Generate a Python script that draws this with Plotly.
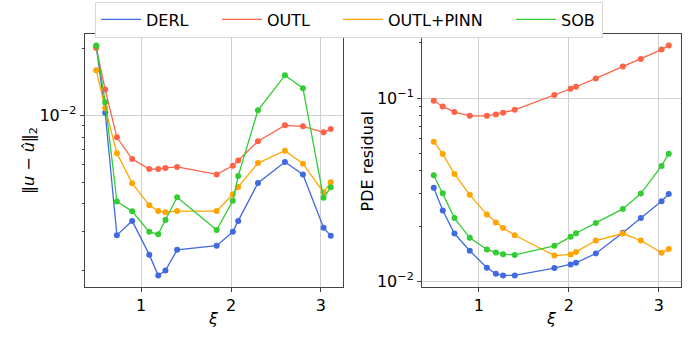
import plotly.graph_objects as go

# xi values shared by both panels
xi = [0.5, 0.6, 0.73, 0.9, 1.09, 1.19, 1.27, 1.4, 1.84, 2.02, 2.08, 2.3, 2.6, 2.8, 3.03, 3.11]

# left panel: ||u - u_hat||_2
err_derl = [0.0205, 0.0103, 0.00289, 0.00335, 0.00236, 0.0019, 0.0020, 0.00248,
            0.00259, 0.00299, 0.00335, 0.00497, 0.00618, 0.00543, 0.00312, 0.00287]
err_outl = [0.0202, 0.0131, 0.00798, 0.00637, 0.00574, 0.00574, 0.00581, 0.00587,
            0.00543, 0.00594, 0.00627, 0.00766, 0.00904, 0.00895, 0.00841, 0.00871]
err_pinn = [0.0160, 0.0108, 0.00676, 0.00495, 0.00394, 0.00371, 0.00367, 0.00371,
            0.00371, 0.00442, 0.00477, 0.00611, 0.00695, 0.00607, 0.00451, 0.00500]
err_sob = [0.0207, 0.0115, 0.00410, 0.00370, 0.00299, 0.00292, 0.00338, 0.00428,
           0.00305, 0.00413, 0.00534, 0.01057, 0.0152, 0.0133, 0.00426, 0.00475]

# right panel: PDE residual
res_derl = [0.0324, 0.0243, 0.0182, 0.01466, 0.01184, 0.01097, 0.01074, 0.01074,
            0.01178, 0.01233, 0.0126, 0.01416, 0.01836, 0.0221, 0.0273, 0.0299]
res_outl = [0.0967, 0.090, 0.0839, 0.080, 0.080, 0.0814, 0.0832, 0.0863,
            0.1038, 0.1124, 0.1153, 0.128, 0.1487, 0.1637, 0.184, 0.1936]
res_pinn = [0.0578, 0.0495, 0.0385, 0.0296, 0.0231, 0.0209, 0.0195, 0.0178,
            0.0138, 0.0140, 0.01445, 0.01667, 0.0182, 0.01667, 0.01428, 0.01496]
res_sob = [0.0379, 0.0302, 0.0221, 0.01725, 0.0149, 0.01433, 0.01403, 0.0139,
           0.0156, 0.01746, 0.01827, 0.0208, 0.0248, 0.0301, 0.0426, 0.0497]

names = ["DERL", "OUTL", "OUTL+PINN", "SOB"]
colors = ["#4169E1", "#FF6347", "#FFA500", "#32CD32"]
legend_w = [66, 66, 118, 36]

W, H = 698, 349
FONT = "DejaVu Sans"

fig = go.Figure()
left = [err_derl, err_outl, err_pinn, err_sob]
right = [res_derl, res_outl, res_pinn, res_sob]
for i in range(4):
    fig.add_trace(go.Scatter(x=xi, y=left[i], name=names[i], mode="lines+markers",
                             line=dict(color=colors[i], width=1.3),
                             marker=dict(size=6, color=colors[i]),
                             showlegend=False, xaxis="x", yaxis="y"))
for i in range(4):
    fig.add_trace(go.Scatter(x=xi, y=right[i], name=names[i], mode="lines+markers",
                             line=dict(color=colors[i], width=1.3),
                             marker=dict(size=6, color=colors[i]),
                             showlegend=False, xaxis="x2", yaxis="y2"))
# legend entries (line only, like the reference)
for i in range(4):
    fig.add_trace(go.Scatter(x=[None], y=[None], name=names[i], mode="lines",
                             line=dict(color=colors[i], width=1.3),
                             legendwidth=legend_w[i], xaxis="x", yaxis="y"))

def minor_vals(lo, hi):
    out = []
    for e in range(lo, hi):
        for m in range(2, 10):
            out.append(m * 10.0 ** e)
    return out

frame = "#444444"
grid = "#d0d0d0"
xcommon = dict(range=[0.3695, 3.2405], tickvals=[1, 2, 3], ticks="outside", ticklen=4,
               tickcolor=frame, showline=True, linecolor=frame, linewidth=1, mirror=True,
               showgrid=True, gridcolor=grid, gridwidth=1, zeroline=False,
               automargin=False,
               tickfont=dict(size=16, color="black", family=FONT))
ycommon = dict(type="log", ticks="outside", ticklen=4, tickcolor=frame, showline=True,
               linecolor=frame, linewidth=1, mirror=True, showgrid=True, gridcolor=grid,
               gridwidth=1, zeroline=False, automargin=False,
               tickfont=dict(size=16, color="black", family=FONT))

y0, y1 = 1 - 287 / H, 1 - 34 / H
fig.update_layout(
    width=W, height=H, margin=dict(l=0, r=0, t=0, b=0, autoexpand=False),
    paper_bgcolor="white", plot_bgcolor="white",
    font=dict(family=FONT, size=16, color="black"),
    xaxis=dict(domain=[84.5 / W, 342.5 / W], anchor="y", **xcommon),
    yaxis=dict(domain=[y0, y1], anchor="x", range=[-2.773, -1.632],
               tickvals=[0.01], ticktext=["10<sup>−2</sup>"],
               minor=dict(tickmode="array", tickvals=minor_vals(-3, -1), ticks="outside",
                          ticklen=2, tickcolor=frame, showgrid=False),
               **ycommon),
    xaxis2=dict(domain=[422 / W, 680.5 / W], anchor="y2", **xcommon),
    yaxis2=dict(domain=[y0, y1], anchor="x2", range=[-2.032, -0.650],
                tickvals=[0.01, 0.1], ticktext=["10<sup>−2</sup>", "10<sup>−1</sup>"],
                minor=dict(tickmode="array", tickvals=minor_vals(-3, 0), ticks="outside",
                           ticklen=2, tickcolor=frame, showgrid=False),
                **ycommon),
    legend=dict(orientation="h", x=95 / W, y=1 - 1.5 / H, xanchor="left", yanchor="top",
                bgcolor="white", bordercolor="#d8d8d8", borderwidth=1, itemwidth=40,
                font=dict(size=16, family=FONT)),
    annotations=[
        dict(text="‖<i>u</i> − <i>û</i>‖<sub>2</sub>", x=29.5 / W, y=1 - 160.5 / H,
             xref="paper", yref="paper", textangle=-90, showarrow=False,
             xanchor="center", yanchor="middle", font=dict(size=16)),
        dict(text="PDE residual", x=367 / W, y=1 - 160.5 / H, xref="paper", yref="paper",
             textangle=-90, showarrow=False, xanchor="center", yanchor="middle",
             font=dict(size=16)),
        dict(text="<i>ξ</i>", x=213.5 / W, y=1 - 318 / H, xref="paper", yref="paper",
             showarrow=False, xanchor="center", yanchor="middle", font=dict(size=16)),
        dict(text="<i>ξ</i>", x=551 / W, y=1 - 318 / H, xref="paper", yref="paper",
             showarrow=False, xanchor="center", yanchor="middle", font=dict(size=16)),
    ],
)

# drop the page's default body margin so the figure sits at the window origin
fig.write_html("out.html", config={"displayModeBar": False},
               post_script="document.body.style.margin='0';")
